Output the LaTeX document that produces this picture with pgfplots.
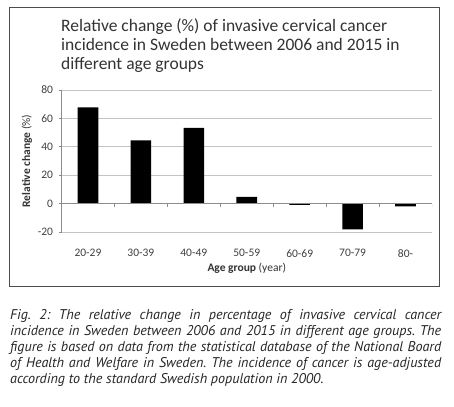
\documentclass[border=0pt]{standalone}
\usepackage{pgfplots}
\pgfplotsset{compat=1.18}
\usepackage{fontspec}
\setmainfont{Carlito}
\newfontfamily\capfont{PT Sans}
\definecolor{txt}{HTML}{404040}
\definecolor{gridc}{HTML}{C4C4C4}
\definecolor{axc}{HTML}{8C8C8C}
\frenchspacing
\begin{document}
\begin{tikzpicture}
\useasboundingbox (0,0) rectangle (454bp,-407bp);
\fill[white] (0,0) rectangle (454bp,-407bp);
\draw[black!70, line width=1bp] (9.3bp,-7.5bp) rectangle (439.5bp,-286.7bp);
\begin{scope}[every node/.style={anchor=base west, inner sep=0pt, text=black!80, font=\fontsize{17.5bp}{20bp}\selectfont}]
\node at (61bp,-31.5bp) {Relative change (\%) of invasive cervical cancer};
\node at (61bp,-50.5bp) {incidence in Sweden between 2006 and 2015 in};
\node at (61bp,-69bp) {different age groups};
\end{scope}
\begin{axis}[
  at={(61.5bp,-232bp)}, anchor=south west,
  scale only axis, width=370.5bp, height=142bp,
  xmin=-0.5, xmax=6.5, ymin=-20, ymax=80,
  ytick={-20,0,20,40,60,80},
  xtick={0,...,6},
  xticklabels={20-29,30-39,40-49,50-59,60-69,70-79,80-},
  /pgf/number format/assume math mode=true,
  axis x line*=bottom, axis y line*=left,
  x axis line style={draw=none},
  y axis line style={axc, line width=0.8bp},
  major x tick style={draw=none},
  major y tick style={axc, line width=0.8bp},
  tick align=outside, major tick length=3bp,
  ymajorgrids, grid style={gridc, line width=0.8bp},
  tick label style={font=\fontsize{11.5bp}{13bp}\selectfont, text=txt},
  xticklabel style={yshift=-11bp},
  yticklabel style={xshift=-2bp},
  xlabel={\textbf{Age group} (year)},
  ylabel={\textbf{Relative change} (\%)},
  label style={font=\fontsize{11.5bp}{13bp}\selectfont, text=black!80},
  xlabel style={yshift=1bp},
  ylabel style={yshift=-1bp},
  ybar, bar width=20.6bp,
]
\addplot[fill=black, draw=none] coordinates {(0,67.8) (1,44.6) (2,53.3) (3,4.7) (4,-0.9) (5,-18.1) (6,-1.9)};
\draw[axc, line width=0.8bp] (axis cs:-0.5,0) -- (axis cs:6.5,0);
\pgfplotsinvokeforeach{0.5,1.5,2.5,3.5,4.5,5.5,6.5}{
  \draw[axc, line width=0.8bp] (axis cs:#1,0) -- ++(0pt,-3bp);
}
\end{axis}
\begin{scope}[every node/.style={anchor=base west, inner sep=0pt, text=black!85, font=\capfont\itshape\fontsize{14.1bp}{16bp}\selectfont}]
\node at (10bp,-319.3bp) {\makebox[431bp][s]{Fig. 2: The relative change in percentage of invasive cervical cancer}};
\node at (10bp,-335.3bp) {\makebox[431bp][s]{incidence in Sweden between 2006 and 2015 in different age groups. The}};
\node at (10bp,-351.3bp) {\makebox[431bp][s]{figure is based on data from the statistical database of the National Board}};
\node at (10bp,-367.3bp) {\makebox[431bp][s]{of Health and Welfare in Sweden. The incidence of cancer is age-adjusted}};
\node at (10bp,-383.3bp) {according to the standard Swedish population in 2000.};
\end{scope}
\end{tikzpicture}
\end{document}
